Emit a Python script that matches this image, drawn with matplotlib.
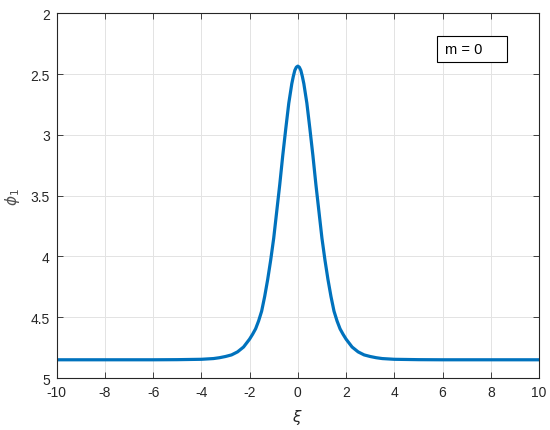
import matplotlib.pyplot as plt
from matplotlib.patches import Rectangle

# valores (xi, phi_1)
xi = [-10, -8, -6, -5, -4, -3.5, -3.25, -3, -2.75, -2.5, -2.25, -2, -1.875, -1.75,
      -1.625, -1.5, -1.375, -1.25, -1.125, -1, -0.875,
      -0.75, -0.625, -0.5, -0.375, -0.25, -0.1875, -0.125, -0.0625, 0,
      0.0625, 0.125, 0.1875, 0.25, 0.375, 0.5, 0.625, 0.75, 0.875,
      1, 1.125, 1.25, 1.375, 1.5, 1.625, 1.75, 1.875,
      2, 2.25, 2.5, 2.75, 3, 3.25, 3.5, 4, 5, 6, 8, 10]
phi1 = [4.85, 4.85, 4.85, 4.849, 4.846, 4.84, 4.833, 4.823, 4.81, 4.785, 4.745, 4.68, 4.64, 4.595,
        4.53, 4.45, 4.33, 4.19, 4.03, 3.85, 3.63,
        3.41, 3.17, 2.95, 2.74, 2.58, 2.52, 2.47, 2.444, 2.435,
        2.444, 2.47, 2.52, 2.58, 2.74, 2.95, 3.17, 3.41, 3.63,
        3.85, 4.03, 4.19, 4.33, 4.45, 4.53, 4.595, 4.64,
        4.68, 4.745, 4.785, 4.81, 4.823, 4.833, 4.84, 4.846, 4.849, 4.85, 4.85, 4.85]

xticks = [-10, -8, -6, -4, -2, 0, 2, 4, 6, 8, 10]
yticks = [2, 2.5, 3, 3.5, 4, 4.5, 5]
ytick_labels = ['2', '2.5', '3', '3.5', '4', '4.5', '5']

plt.rcParams['font.family'] = ['Liberation Sans', 'DejaVu Sans']
plt.rcParams['mathtext.fontset'] = 'dejavusans'
plt.rcParams['axes.unicode_minus'] = False

fig = plt.figure(figsize=(5.5, 4.31), dpi=100)
ax = fig.add_axes([0.103, 0.1206, 0.877, 0.8464])

ax.plot(xi, phi1, color='#0072BD', linewidth=2.3,
        solid_joinstyle='round', solid_capstyle='round')

ax.set_xlim(-10, 10)
ax.set_ylim(5, 2)
ax.set_xticks(xticks)
ax.set_yticks(yticks)
ax.set_yticklabels(ytick_labels)

gray = '#262626'
for s in ax.spines.values():
    s.set_color(gray)
    s.set_linewidth(0.8)
ax.tick_params(direction='in', length=4, width=0.6, colors=gray,
               labelsize=10, top=True, right=True, labelcolor=gray, pad=5)
ax.grid(True, color='#e3e3e3', linewidth=0.7)
ax.set_axisbelow(True)

ax.set_xlabel(r'$\xi$', fontsize=11, color=gray, labelpad=6)
ax.set_ylabel(r'$\phi_1$', fontsize=11, color='#505050', labelpad=6)

# cuadro de texto
ax.add_patch(Rectangle((0.789, 0.866), 0.145, 0.0715, transform=ax.transAxes,
                       facecolor='white', edgecolor='black', linewidth=0.8,
                       zorder=5))
ax.text(0.806, 0.902, 'm = 0', transform=ax.transAxes, fontsize=10.5,
        ha='left', va='center', zorder=6)

fig.savefig('out.png', dpi=100)
